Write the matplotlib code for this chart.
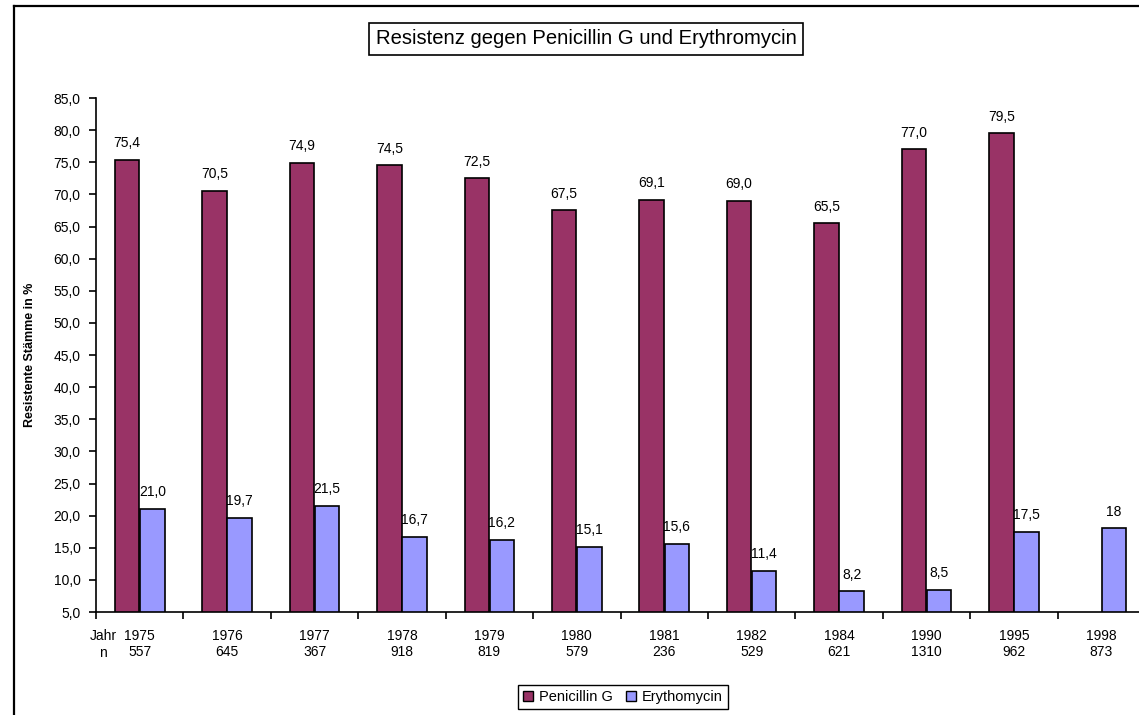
import matplotlib as mpl
import matplotlib.pyplot as plt
import numpy as np
from matplotlib.patches import Patch
from matplotlib.lines import Line2D

mpl.use('Agg')
plt.rcParams['font.family'] = ['Liberation Sans', 'DejaVu Sans']

# Resistance of strains per year (percent); n = number of strains tested
years = ['1975', '1976', '1977', '1978', '1979', '1980', '1981', '1982', '1984', '1990', '1995', '1998']
counts = ['557', '645', '367', '918', '819', '579', '236', '529', '621', '1310', '962', '873']
penicillin = [75.4, 70.5, 74.9, 74.5, 72.5, 67.5, 69.1, 69.0, 65.5, 77.0, 79.5, np.nan]
erythro = [21.0, 19.7, 21.5, 16.7, 16.2, 15.1, 15.6, 11.4, 8.2, 8.5, 17.5, 18.0]
ery_decimals = [1, 1, 1, 1, 1, 1, 1, 1, 1, 1, 1, 0]

PEN_COLOR = '#993366'
ERY_COLOR = '#9999FF'

W, H = 1139, 715
fig = plt.figure(figsize=(W / 100, H / 100), dpi=100)
ax = fig.add_axes([96 / W, 103 / H, 1049 / W, 514 / H])

x = np.arange(len(years))
bw = 0.28
off = 0.144


def fmt(v, d=1):
    return '{:.{d}f}'.format(v, d=d).replace('.', ',')


ax.bar(x - off, penicillin, bw, color=PEN_COLOR, edgecolor='black', linewidth=1.2)
ax.bar(x + off, erythro, bw, color=ERY_COLOR, edgecolor='black', linewidth=1.2)

for i in range(len(years)):
    if not np.isnan(penicillin[i]):
        ax.annotate(fmt(penicillin[i]), (x[i] - off, penicillin[i]), xytext=(0, 7),
                    textcoords='offset points', ha='center', va='bottom', fontsize=10)
    ax.annotate(fmt(erythro[i], ery_decimals[i]), (x[i] + off, erythro[i]), xytext=(0, 7),
                textcoords='offset points', ha='center', va='bottom', fontsize=10)

ax.set_xlim(-0.5, len(years) - 0.5)
ax.set_ylim(5, 85)
ax.set_yticks(np.arange(5, 86, 5))
ax.set_yticklabels([fmt(v) for v in np.arange(5, 86, 5)], fontsize=10)
ax.set_xticks(x)
ax.set_xticklabels(['{}\n{}'.format(y, n) for y, n in zip(years, counts)], fontsize=10,
                   linespacing=1.25)
ax.set_xticks(np.arange(-0.5, len(years), 1.0), minor=True)
ax.tick_params(axis='x', which='major', length=0, pad=12)
ax.tick_params(axis='x', which='minor', length=5, width=1.2, direction='out')
ax.tick_params(axis='y', length=5, width=1.2, direction='out', pad=6)

for s in ['top', 'right']:
    ax.spines[s].set_visible(False)
for s in ['left', 'bottom']:
    ax.spines[s].set_linewidth(1.2)

ax.set_ylabel('Resistente Stämme in %', fontsize=9, fontweight='bold', labelpad=10)
ax.yaxis.set_label_coords(-0.057, 0.5)

fig.text(103 / W, 1 - 629 / H, 'Jahr\nn', ha='center', va='top', fontsize=10,
         linespacing=1.25)

# chart title in a box
fig.text(586 / W, 1 - 39 / H, 'Resistenz gegen Penicillin G und Erythromycin',
         ha='center', va='center', fontsize=14.6,
         bbox=dict(boxstyle='square,pad=0.3', fc='white', ec='black', lw=1.2))

handles = [Patch(facecolor=PEN_COLOR, edgecolor='black', label='Penicillin G'),
           Patch(facecolor=ERY_COLOR, edgecolor='black', label='Erythomycin')]
fig.legend(handles=handles, loc='center', bbox_to_anchor=(623 / W, 1 - 697 / H), ncol=2,
           fontsize=10.5, frameon=True, fancybox=False, edgecolor='black', framealpha=1,
           handlelength=0.7, handleheight=0.7, handletextpad=0.4, columnspacing=0.9,
           borderpad=0.35)

# outer chart frame (left and top edges)
fx = 14 / W
fy = 1 - 6 / H
fig.add_artist(Line2D([fx, fx], [0, fy], color='black', lw=1.6, transform=fig.transFigure))
fig.add_artist(Line2D([fx, 1], [fy, fy], color='black', lw=1.6, transform=fig.transFigure))

plt.savefig('out.png', dpi=100)
